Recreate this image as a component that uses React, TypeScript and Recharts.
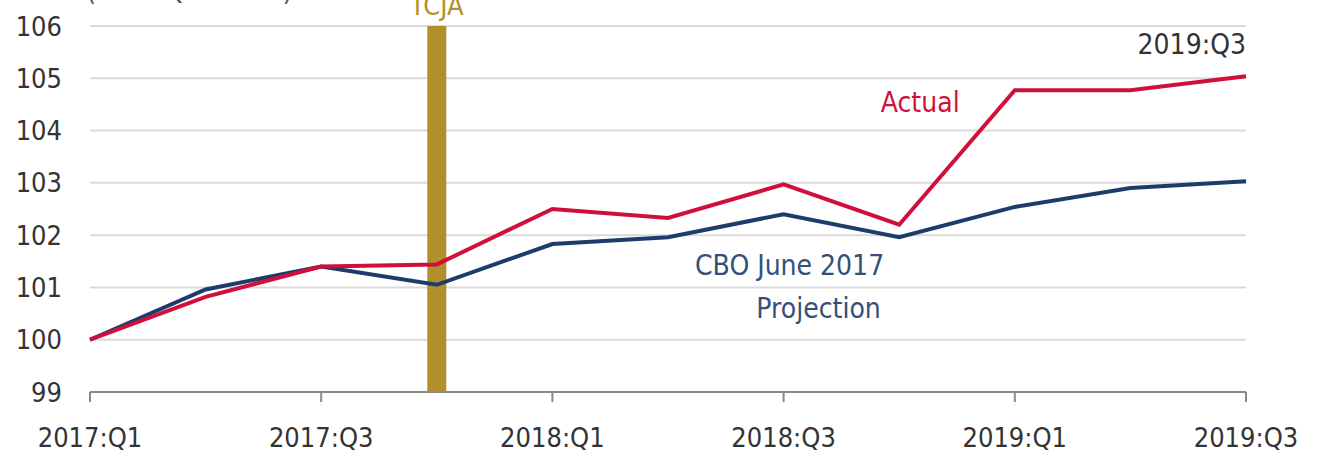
import React from 'react';
import { LineChart, Line, XAxis, YAxis, CartesianGrid, ReferenceLine, ReferenceDot } from 'recharts';

const quarters = ['2017:Q1', '2017:Q2', '2017:Q3', '2017:Q4', '2018:Q1', '2018:Q2', '2018:Q3', '2018:Q4', '2019:Q1', '2019:Q2', '2019:Q3'];
const actual = [100, 100.82, 101.4, 101.44, 102.5, 102.33, 102.97, 102.2, 104.77, 104.77, 105.04];
const projection = [100, 100.96, 101.4, 101.05, 101.83, 101.96, 102.4, 101.96, 102.54, 102.9, 103.03];
const yTicks = [99, 100, 101, 102, 103, 104, 105, 106];

const data = quarters.map((q, i) => ({ q, actual: actual[i], projection: projection[i] }));

const FONT = "'Liberation Sans Narrow', 'DejaVu Sans Condensed', 'Liberation Sans', sans-serif";
const FS = 27;
const RED = '#D0103A';
const BLUE = '#1D3C6B';
const GOLD = '#B18F2B';

const makeLabel = (text: string, fill: string, anchor: string, dx: number) => (props: any) => {
  const vb = props.viewBox || {};
  const cx = (vb.x ?? 0) + (vb.width ?? 0) / 2;
  const cy = (vb.y ?? 0) + (vb.height ?? 0) / 2;
  return (
    <text x={cx + dx} y={cy} dy="0.36em" textAnchor={anchor} fill={fill} fontSize={FS + 1} fontFamily={FONT}>
      {text}
    </text>
  );
};

export default function App() {
  return (
    <div style={{ position: 'absolute', left: 0, top: 0, background: '#fff' }}>
      <LineChart width={1322} height={455} data={data} margin={{ top: 26, right: 76, left: 0, bottom: 8 }}>
        <text x={12} y={0} fontSize={FS} fontFamily={FONT} fill="#555">Index (2017:Q1 = 100)</text>
        <CartesianGrid vertical={false} stroke="#DADADA" strokeWidth={2} />
        <XAxis
          dataKey="q"
          interval={1}
          height={55}
          tickSize={10}
          tickMargin={26}
          axisLine={{ stroke: '#8A8A8A', strokeWidth: 2 }}
          tickLine={{ stroke: '#8A8A8A', strokeWidth: 2 }}
          tick={{ fill: '#333', fontSize: FS, fontFamily: FONT }}
        />
        <YAxis
          domain={[99, 106]}
          ticks={yTicks}
          width={90}
          axisLine={false}
          tickLine={false}
          tickSize={0}
          tickMargin={28}
          tick={{ fill: '#333', fontSize: FS, fontFamily: FONT }}
        />
        <ReferenceLine
          x="2017:Q4"
          stroke={GOLD}
          strokeWidth={19}
          label={{ value: 'TCJA', position: 'top', offset: 11, fill: GOLD, fontSize: FS, fontFamily: FONT }}
        />
        <Line type="linear" dataKey="projection" stroke={BLUE} strokeWidth={4} dot={false} isAnimationActive={false} />
        <Line type="linear" dataKey="actual" stroke={RED} strokeWidth={4} dot={false} isAnimationActive={false} />
        <ReferenceDot x="2018:Q4" y={104.55} r={0} fill="none" stroke="none" label={makeLabel('Actual', RED, 'middle', 21)} />
        <ReferenceDot x="2018:Q3" y={101.43} r={0} fill="none" stroke="none" label={makeLabel('CBO June 2017', '#34507A', 'middle', 6)} />
        <ReferenceDot x="2018:Q3" y={100.61} r={0} fill="none" stroke="none" label={makeLabel('Projection', '#34507A', 'middle', 35)} />
        <ReferenceDot x="2019:Q3" y={105.65} r={0} fill="none" stroke="none" ifOverflow="visible" label={makeLabel('2019:Q3', '#333', 'end', 0)} />
      </LineChart>
    </div>
  );
}
